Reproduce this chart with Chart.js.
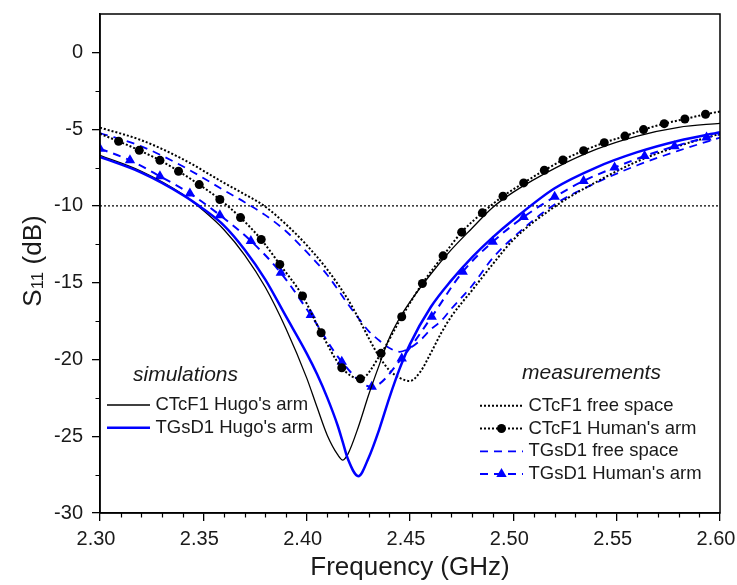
<!DOCTYPE html>
<html>
<head>
<meta charset="utf-8">
<script src="https://cdn.jsdelivr.net/npm/chart.js@4.4.1/dist/chart.umd.min.js"></script>
<style>
  html, body { margin: 0; padding: 0; background: #fff; }
  canvas { display: block; }
</style>
</head>
<body>
<canvas id="s11-chart" width="737" height="585"></canvas>
<script>
// simulated curves (Hugo's arm)
const simFreq = [2.300, 2.320, 2.340, 2.350, 2.360, 2.370, 2.380, 2.390, 2.400, 2.405, 2.410, 2.415, 2.4175, 2.420, 2.425, 2.430, 2.435, 2.440, 2.445, 2.450, 2.460, 2.470, 2.480, 2.490, 2.500, 2.520, 2.540, 2.560, 2.580, 2.600]
const simCTcF1 = [-6.70, -7.74, -9.24, -10.3, -11.55, -13.2, -15.3, -18.0, -21.2, -23.1, -24.95, -26.2, -26.55, -26.15, -24.4, -22.3, -20.4, -18.6, -17.3, -16.25, -14.45, -12.85, -11.45, -10.1, -9.1, -7.55, -6.32, -5.45, -4.88, -4.62]
const simTGsD1 = [-6.81, -7.83, -9.28, -10.2, -11.28, -12.85, -14.8, -17.2, -19.6, -20.95, -22.5, -24.3, -25.4, -26.5, -27.6, -26.4, -24.6, -22.5, -20.6, -19.0, -16.6, -14.85, -13.35, -12.05, -10.9, -8.85, -7.5, -6.5, -5.75, -5.2]

// measured, free space
const fsFreq = [2.300, 2.320, 2.340, 2.360, 2.370, 2.380, 2.390, 2.400, 2.410, 2.420, 2.425, 2.430, 2.435, 2.440, 2.445, 2.450, 2.455, 2.460, 2.465, 2.470, 2.480, 2.490, 2.500, 2.520, 2.540, 2.560, 2.580, 2.600]
const fsCTcF1 = [-4.90, -5.72, -6.95, -8.50, -9.24, -10.05, -11.2, -12.55, -14.15, -16.1, -17.3, -18.6, -19.8, -20.7, -21.2, -21.4, -20.8, -19.6, -18.3, -17.2, -15.5, -13.8, -12.2, -10.05, -8.45, -7.1, -6.1, -5.3]
const fsTGsD1 = [-5.25, -6.12, -7.42, -8.98, -9.76, -10.6, -11.65, -13.0, -14.5, -16.4, -17.3, -18.15, -18.75, -19.25, -19.5, -19.25, -18.75, -18.05, -17.5, -16.7, -15.2, -13.4, -12.05, -9.9, -8.5, -7.35, -6.4, -5.55]

// measured, human's arm (first/last point of ctcArm are line ends, no marker)
const ctcArmFreq = [2.300, 2.309, 2.319, 2.329, 2.338, 2.348, 2.358, 2.368, 2.378, 2.387, 2.398, 2.407, 2.417, 2.426, 2.436, 2.446, 2.456, 2.466, 2.475, 2.485, 2.495, 2.505, 2.515, 2.524, 2.534, 2.544, 2.554, 2.563, 2.573, 2.583, 2.593, 2.600]
const ctcArmDb = [-5.30, -5.79, -6.38, -7.03, -7.74, -8.61, -9.58, -10.76, -12.19, -13.81, -15.86, -18.26, -20.54, -21.26, -19.60, -17.22, -15.05, -13.25, -11.71, -10.45, -9.37, -8.50, -7.68, -7.01, -6.40, -5.88, -5.45, -5.03, -4.64, -4.34, -4.03, -3.85]
const tgsArmFreq = [2.300, 2.3145, 2.329, 2.3435, 2.358, 2.373, 2.3875, 2.402, 2.417, 2.4315, 2.446, 2.4605, 2.4755, 2.490, 2.505, 2.520, 2.534, 2.549, 2.5635, 2.578, 2.5935, 2.600]
const tgsArmDb = [-6.27, -7.03, -8.07, -9.19, -10.60, -12.28, -14.36, -17.11, -20.15, -21.78, -19.93, -17.22, -14.29, -12.34, -10.72, -9.41, -8.37, -7.50, -6.75, -6.12, -5.55, -5.35]

// -10 dB reference
const refFreq = [2.30, 2.60]
const refDb = [-10, -10]

const xTicks = { min: 2.30, max: 2.60, step: 0.05, minor: 0.01 }
const yTicks = { min: -30, max: 2.5, step: 5, minor: 2.5 }

const blue = '#0000ff'
const black = '#000000'
const textColor = '#1a1a1a'
const fontFamily = "'Liberation Sans', Arial, sans-serif"

const pts = (xs, ys) => xs.map((x, i) => ({ x: x, y: ys[i] }))

const datasets = [
    {
        label: "TGsD1 Hugo's arm",
        data: pts(simFreq, simTGsD1),
        borderColor: blue,
        borderWidth: 2.5,
        pointRadius: 0
    },
    {
        label: "CTcF1 Hugo's arm",
        data: pts(simFreq, simCTcF1),
        borderColor: black,
        borderWidth: 1.3,
        pointRadius: 0
    },
    {
        label: "CTcF1 Human's arm",
        data: pts(ctcArmFreq, ctcArmDb),
        borderColor: black,
        borderWidth: 2,
        borderDash: [2, 2],
        pointStyle: 'circle',
        markerRadius: 4.5,
        pointRadius: c => (c.dataIndex === 0 || c.dataIndex === ctcArmFreq.length - 1) ? 0 : 4.5,
        pointBackgroundColor: black,
        pointBorderColor: black,
        pointBorderWidth: 0
    },
    {
        label: "TGsD1 Human's arm",
        data: pts(tgsArmFreq, tgsArmDb),
        borderColor: blue,
        borderWidth: 2,
        borderDash: [8, 6],
        pointStyle: 'triangle',
        markerRadius: 6,
        pointRadius: c => c.dataIndex === tgsArmFreq.length - 1 ? 0 : 6,
        pointBackgroundColor: blue,
        pointBorderColor: blue,
        pointBorderWidth: 0
    },
    {
        label: 'CTcF1 free space',
        data: pts(fsFreq, fsCTcF1),
        borderColor: black,
        borderWidth: 2,
        borderDash: [2, 2],
        pointRadius: 0
    },
    {
        label: 'TGsD1 free space',
        data: pts(fsFreq, fsTGsD1),
        borderColor: blue,
        borderWidth: 1.8,
        borderDash: [8, 6],
        pointRadius: 0
    },
    {
        label: '-10 dB',
        data: pts(refFreq, refDb),
        borderColor: black,
        borderWidth: 1.3,
        borderDash: [2, 2],
        pointRadius: 0
    }
]
datasets.forEach(d => { d.fill = false; d.cubicInterpolationMode = 'monotone' })

const legends = [
    { title: 'simulations', titleX: 133, titleY: 375, x: 107, rowY: 405, rows: [1, 0] },
    { title: 'measurements', titleX: 522, titleY: 373, x: 480, rowY: 405.7, rows: [4, 2, 5, 3] }
]

function drawMarker(ctx, style, x, y, r, color) {
    ctx.fillStyle = color
    ctx.beginPath()
    if (style === 'triangle') {
        let rad = 0
        ctx.moveTo(x + Math.sin(rad) * r, y - Math.cos(rad) * r)
        rad += 2 * Math.PI / 3
        ctx.lineTo(x + Math.sin(rad) * r, y - Math.cos(rad) * r)
        rad += 2 * Math.PI / 3
        ctx.lineTo(x + Math.sin(rad) * r, y - Math.cos(rad) * r)
        ctx.closePath()
    } else {
        ctx.arc(x, y, r, 0, 2 * Math.PI)
    }
    ctx.fill()
}

// no label overflow padding: the plot box is fixed by layout padding + afterFit
function fixBox(s, size) {
    if (s.isHorizontal()) s.height = size
    else s.width = size
    s.paddingTop = 0
    s.paddingBottom = 0
    s.paddingLeft = 0
    s.paddingRight = 0
}

const decorations = {
    id: 'decorations',
    afterDraw(chart) {
        const ctx = chart.ctx
        const a = chart.chartArea
        const xs = chart.scales.x
        const ys = chart.scales.y
        ctx.save()

        // box frame
        ctx.strokeStyle = black
        ctx.lineWidth = 1.5
        ctx.strokeRect(a.left, a.top, a.right - a.left, a.bottom - a.top)

        // minor ticks
        ctx.lineWidth = 1.2
        ctx.beginPath()
        const nx = Math.round((xTicks.max - xTicks.min) / xTicks.minor)
        for (let i = 1; i < nx; i++) {
            if (i % 5 === 0) continue
            const px = Math.round(xs.getPixelForValue(xTicks.min + i * xTicks.minor)) + 0.5
            ctx.moveTo(px, a.bottom)
            ctx.lineTo(px, a.bottom + 4.5)
        }
        for (let v = yTicks.min + yTicks.minor; v < yTicks.max; v += yTicks.step) {
            const py = Math.round(ys.getPixelForValue(v)) + 0.5
            ctx.moveTo(a.left, py)
            ctx.lineTo(a.left - 4.5, py)
        }
        ctx.stroke()

        // axis titles
        ctx.fillStyle = textColor
        ctx.font = `26px ${fontFamily}`
        ctx.textAlign = 'center'
        ctx.textBaseline = 'alphabetic'
        ctx.fillText('Frequency (GHz)', (a.left + a.right) / 2, 575)

        ctx.save()
        ctx.translate(41, 261)
        ctx.rotate(-Math.PI / 2)
        ctx.textAlign = 'left'
        ctx.font = `26px ${fontFamily}`
        const wS = ctx.measureText('S').width
        const wRest = ctx.measureText(' (dB)').width
        ctx.font = `17px ${fontFamily}`
        const wSub = ctx.measureText('11').width
        let lx = -(wS + wSub + wRest) / 2
        ctx.font = `26px ${fontFamily}`
        ctx.fillText('S', lx, 0)
        lx += wS
        ctx.font = `17px ${fontFamily}`
        ctx.fillText('11', lx, 2)
        lx += wSub
        ctx.font = `26px ${fontFamily}`
        ctx.fillText(' (dB)', lx, 0)
        ctx.restore()

        // grouped legends
        legends.forEach(lg => {
            ctx.fillStyle = textColor
            ctx.textAlign = 'left'
            ctx.textBaseline = 'middle'
            ctx.font = `italic 21px ${fontFamily}`
            ctx.fillText(lg.title, lg.titleX, lg.titleY)
            lg.rows.forEach((idx, k) => {
                const ds = chart.data.datasets[idx]
                const y = lg.rowY + k * 22.8
                ctx.save()
                ctx.strokeStyle = ds.borderColor
                ctx.lineWidth = ds.borderWidth
                ctx.setLineDash(ds.borderDash || [])
                ctx.beginPath()
                ctx.moveTo(lg.x, y)
                ctx.lineTo(lg.x + 43, y)
                ctx.stroke()
                ctx.setLineDash([])
                if (ds.markerRadius) drawMarker(ctx, ds.pointStyle, lg.x + 21.5, y, ds.markerRadius, ds.borderColor)
                ctx.restore()
                ctx.fillStyle = textColor
                ctx.font = `18.5px ${fontFamily}`
                ctx.fillText(ds.label, lg.x + 48.5, y)
            })
        })
        ctx.restore()
    }
}

const ctx = document.getElementById('s11-chart').getContext('2d')
new Chart(ctx, {
    type: 'line',
    data: { datasets: datasets },
    options: {
        responsive: false,
        animation: false,
        devicePixelRatio: 1,
        layout: { autoPadding: false, padding: { top: 14, right: 17, left: 0, bottom: 0 } },
        plugins: {
            legend: { display: false },
            tooltip: { enabled: false }
        },
        scales: {
            x: {
                type: 'linear',
                min: xTicks.min,
                max: xTicks.max,
                afterFit: s => fixBox(s, 72),
                grid: { display: true, drawOnChartArea: false, drawTicks: true, tickLength: 8, color: black, lineWidth: 1.3 },
                border: { display: true, color: black, width: 1.5 },
                ticks: {
                    stepSize: xTicks.step,
                    includeBounds: false,
                    padding: 6,
                    labelOffset: -4,
                    color: textColor,
                    font: { family: fontFamily, size: 20 },
                    maxRotation: 0,
                    callback: v => Number(v).toFixed(2)
                }
            },
            y: {
                type: 'linear',
                min: yTicks.min,
                max: yTicks.max,
                afterFit: s => fixBox(s, 100),
                grid: { display: true, drawOnChartArea: false, drawTicks: true, tickLength: 8, color: black, lineWidth: 1.3 },
                border: { display: true, color: black, width: 1.5 },
                ticks: {
                    stepSize: yTicks.step,
                    includeBounds: false,
                    padding: 9,
                    color: textColor,
                    font: { family: fontFamily, size: 20 },
                    callback: v => Math.round(v).toString()
                }
            }
        }
    },
    plugins: [decorations]
})
</script>
</body>
</html>
